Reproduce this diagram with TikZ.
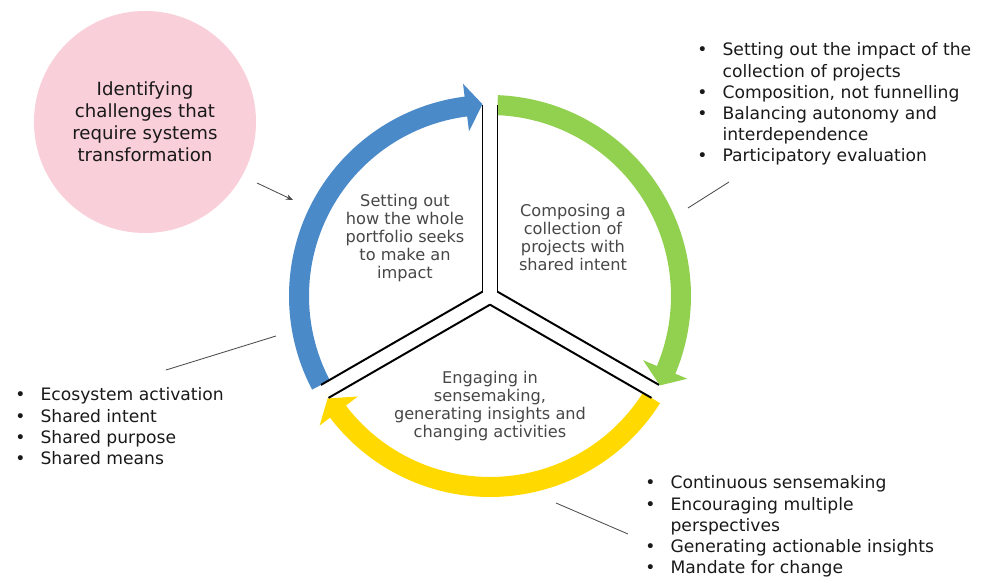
\documentclass[tikz,border=0pt]{standalone}
\usepackage{fontspec}
\setmainfont{DejaVu Sans}
\usetikzlibrary{arrows.meta,calc}

\definecolor{loopblue}{RGB}{74,138,200}
\definecolor{loopgreen}{RGB}{146,208,80}
\definecolor{loopyellow}{RGB}{255,217,0}
\definecolor{challengepink}{RGB}{249,207,217}

\tikzset{
  stage/.style={align=center, text=black!72, font=\fontsize{11.5}{12.8}\selectfont},
  bullets/.style={anchor=base west, inner sep=0pt, text=black!90, font=\fontsize{12.2}{14.94}\selectfont},
  pointer/.style={draw=black!70, line width=0.6pt},
  spoke/.style={line width=1.4pt},
}
\newcommand{\itm}{\makebox[18pt][l]{\textbullet}}
\newcommand{\cnt}{\hspace*{18pt}}

\begin{document}
\begin{tikzpicture}[x=0.025cm, y=0.025cm]
\useasboundingbox (-490,-281) rectangle (492,296);

\foreach \col/\s/\e in {loopblue/207.75/92.25, loopgreen/87.75/-27.75, loopyellow/-32.25/-147.75}
  \fill[\col] (\s:201) arc[start angle=\s, end angle=\e+5, radius=201]
    -- (\e+5:214) -- (\e:192) -- (\e+5:166) -- (\e+5:181)
    arc[start angle=\e+5, end angle=\s, radius=181] -- cycle;

\foreach \t in {90,210,330}
  \foreach \o in {90,-90}
    \draw[spoke] ($(\t:4.33)+(\t+\o:7.5)$) -- ($(\t:190.8)+(\t+\o:7.5)$);

\node[stage] (setout) at (-85,58) {Setting out\\how the whole\\portfolio seeks\\to make an\\impact};
\node[stage] (compose) at (83,59) {Composing a\\collection of\\projects with\\shared intent};
\node[stage] (engage) at (0,-110) {Engaging in\\sensemaking,\\generating insights and\\changing activities};

\node[circle, fill=challengepink, minimum size=5.55cm, inner sep=0pt, align=center,
  text=black!90, font=\fontsize{12.9}{15.6}\selectfont] (challenge) at (-345,174)
  {Identifying\\challenges that\\require systems\\transformation};

\node[bullets] (listtop) at (207,240) {\begin{tabular}[t]{@{}l@{}}
\itm Setting out the impact of the\\
\cnt collection of projects\\
\itm Composition, not funnelling\\
\itm Balancing autonomy and\\
\cnt interdependence\\
\itm Participatory evaluation
\end{tabular}};

\node[bullets] (listleft) at (-475,-105) {\begin{tabular}[t]{@{}l@{}}
\itm Ecosystem activation\\
\itm Shared intent\\
\itm Shared purpose\\
\itm Shared means
\end{tabular}};

\node[bullets] (listbottom) at (155,-193) {\begin{tabular}[t]{@{}l@{}}
\itm Continuous sensemaking\\
\itm Encouraging multiple\\
\cnt perspectives\\
\itm Generating actionable insights\\
\itm Mandate for change
\end{tabular}};

\coordinate (challengeout) at (-233,113);
\coordinate (bluein) at (-197,96);
\draw[pointer, -{Stealth[length=5pt, width=4pt]}] (challengeout) -- (bluein);

\coordinate (greenout) at (198,88);
\coordinate (topin) at (239,114);
\draw[pointer] (greenout) -- (topin);

\coordinate (blueout) at (-214,-40);
\coordinate (leftin) at (-324,-74);
\draw[pointer] (blueout) -- (leftin);

\coordinate (yellowout) at (66,-207);
\coordinate (bottomin) at (138,-238);
\draw[pointer] (yellowout) -- (bottomin);

\end{tikzpicture}
\end{document}
